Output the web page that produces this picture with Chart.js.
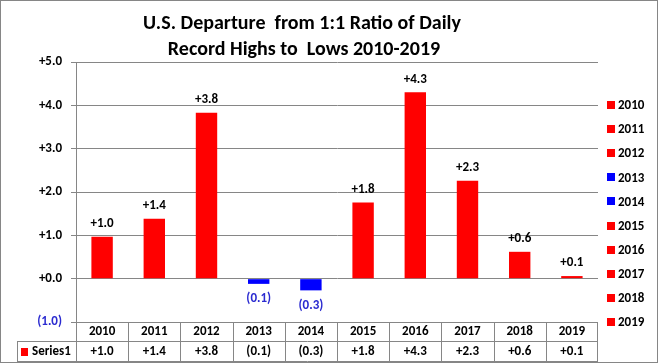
<!DOCTYPE html>
<html>
<head>
<meta charset="utf-8">
<script src="https://cdn.jsdelivr.net/npm/chart.js@4.4.1/dist/chart.umd.min.js"></script>
<style>
  html, body { margin: 0; padding: 0; background: #fff; }
  #wrap { width: 658px; height: 363px; position: relative; }
</style>
</head>
<body>
<div id="wrap"><canvas id="barChart"></canvas></div>
<script>
// chart data
const years = ['2010', '2011', '2012', '2013', '2014', '2015', '2016', '2017', '2018', '2019'];
const departures = [0.97, 1.38, 3.83, -0.12, -0.27, 1.76, 4.30, 2.26, 0.62, 0.06];
const yTicks = [-1, 0, 1, 2, 3, 4, 5];
const seriesName = 'Series1';
const titleLines = ['U.S. Departure  from 1:1 Ratio of Daily', 'Record Highs to  Lows 2010-2019'];

const FONT = 'Carlito, Calibri, Lato, sans-serif';
const GRID = '#868686';
const RED = '#FF0000';
const BLUE = '#0000FF';
const barColors = departures.map(v => v < 0 ? BLUE : RED);

// +1.0 / (0.1) style like excel
function fmt(v) {
    return v < 0 ? '(' + Math.abs(v).toFixed(1) + ')' : '+' + v.toFixed(1);
}
function px(v) { return Math.round(v) + 0.5; }

// title, value labels, legend and data table
const extras = {
    id: 'extras',
    afterDatasetsDraw(chart) {
        const ctx = chart.ctx;
        const meta = chart.getDatasetMeta(0);
        ctx.save();
        ctx.font = 'bold 13px ' + FONT;
        ctx.textAlign = 'center';
        ctx.textBaseline = 'middle';
        meta.data.forEach((bar, i) => {
            const v = departures[i];
            if (v < 0) {
                ctx.fillStyle = '#2B2BD0';
                ctx.fillText(fmt(v), bar.x, bar.y + 15);
            } else {
                ctx.fillStyle = '#000';
                ctx.fillText(fmt(v), bar.x, bar.y - 13);
            }
        });
        ctx.restore();
    },
    afterDraw(chart) {
        const ctx = chart.ctx;
        const a = chart.chartArea;
        const x = chart.scales.x;
        ctx.save();

        // outer border
        ctx.strokeStyle = GRID;
        ctx.lineWidth = 1;
        ctx.strokeRect(0.5, 0.5, chart.width - 1, chart.height - 1);

        // title
        ctx.fillStyle = '#000';
        ctx.font = 'bold 20px ' + FONT;
        ctx.textAlign = 'center';
        ctx.textBaseline = 'alphabetic';
        ctx.fillText(titleLines[0], 302, 29);
        ctx.fillText(titleLines[1], 304, 55);

        // legend, one entry per year
        ctx.font = 'bold 13px ' + FONT;
        ctx.textAlign = 'left';
        ctx.textBaseline = 'middle';
        years.forEach((yr, i) => {
            const cy = 105 + i * 24.1;
            ctx.fillStyle = barColors[i];
            ctx.fillRect(607, Math.round(cy) - 4, 8, 8);
            ctx.fillStyle = '#000';
            ctx.fillText(yr, 618, cy + 1);
        });

        // data table under the axis
        const top = Math.round(a.bottom);
        const mid = top + 19;
        const bot = top + 39;
        const colW = (a.right - a.left) / years.length;
        ctx.strokeStyle = GRID;
        ctx.beginPath();
        ctx.moveTo(17, px(mid)); ctx.lineTo(a.right, px(mid));
        ctx.moveTo(17, px(bot)); ctx.lineTo(a.right, px(bot));
        ctx.moveTo(px(17), mid); ctx.lineTo(px(17), bot);
        for (let k = 0; k <= years.length; k++) {
            const lx = px(a.left + k * colW - (k === years.length ? 1 : 0));
            ctx.moveTo(lx, top); ctx.lineTo(lx, bot);
        }
        ctx.stroke();

        ctx.textAlign = 'center';
        ctx.fillStyle = '#000';
        years.forEach((yr, i) => {
            const cx = x.getPixelForValue(i);
            ctx.fillText(yr, cx, top + 10);
            ctx.fillText(fmt(departures[i]), cx, mid + 11);
        });
        ctx.fillStyle = RED;
        ctx.fillRect(21, mid + 7, 7, 8);
        ctx.textAlign = 'left';
        ctx.fillStyle = '#000';
        ctx.fillText(seriesName, 32, mid + 11);
        ctx.restore();
    }
};

const ctx = document.getElementById('barChart');
new Chart(ctx, {
    type: 'bar',
    data: {
        labels: years,
        datasets: [{
            label: seriesName,
            data: departures,
            backgroundColor: barColors,
            barPercentage: 0.41,
            categoryPercentage: 1.0
        }]
    },
    options: {
        responsive: true,
        maintainAspectRatio: false,
        animation: false,
        layout: { padding: { left: 0, right: 60, top: 62, bottom: 41 } },
        plugins: {
            legend: { display: false },
            title: { display: false },
            tooltip: { enabled: false }
        },
        scales: {
            x: { display: false },
            y: {
                min: -1,
                max: 5,
                afterFit(scale) { scale.width = 76; },
                afterBuildTicks(scale) { scale.ticks = yTicks.map(v => ({ value: v })); },
                border: { display: true, color: GRID },
                grid: { color: GRID, tickLength: 5, lineWidth: 1 },
                ticks: {
                    padding: 9,
                    font: { family: FONT, size: 13, weight: 'bold' },
                    color: c => c.tick && c.tick.value < 0 ? '#2B2BD0' : '#000',
                    callback: v => fmt(v)
                }
            }
        }
    },
    plugins: [extras]
});
</script>
</body>
</html>
